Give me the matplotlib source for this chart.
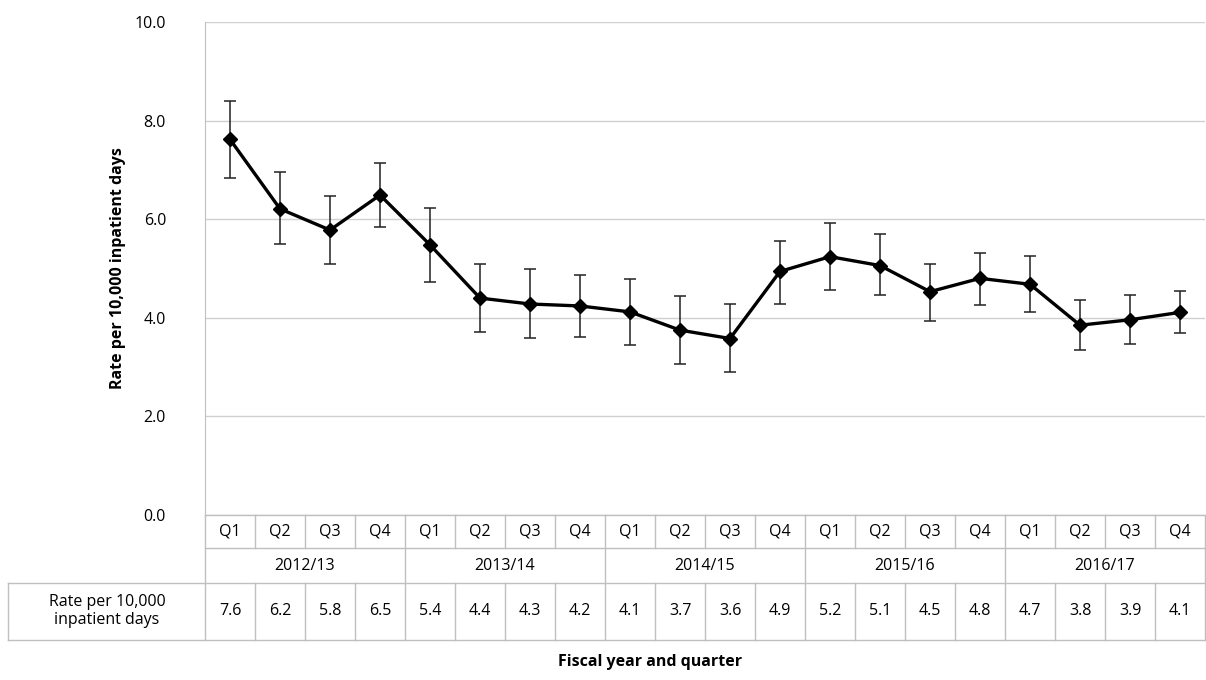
import matplotlib
matplotlib.use("Agg")
import matplotlib.pyplot as plt
from matplotlib.lines import Line2D

plt.rcParams["font.family"] = ["Open Sans", "DejaVu Sans"]

years = ["2012/13", "2013/14", "2014/15", "2015/16", "2016/17"]
quarters = ["Q1", "Q2", "Q3", "Q4"] * 5
rate = [7.62, 6.21, 5.78, 6.49, 5.48, 4.40, 4.28, 4.24, 4.12, 3.75,
        3.58, 4.94, 5.24, 5.06, 4.53, 4.80, 4.68, 3.85, 3.96, 4.11]
upper = [8.40, 6.96, 6.48, 7.13, 6.23, 5.09, 5.00, 4.87, 4.78, 4.45,
         4.28, 5.56, 5.93, 5.69, 5.10, 5.32, 5.25, 4.37, 4.46, 4.54]
lower = [6.84, 5.50, 5.10, 5.84, 4.72, 3.72, 3.60, 3.62, 3.44, 3.06,
         2.91, 4.28, 4.56, 4.46, 3.94, 4.26, 4.11, 3.35, 3.46, 3.70]
table_vals = ["7.6", "6.2", "5.8", "6.5", "5.4", "4.4", "4.3", "4.2", "4.1", "3.7",
              "3.6", "4.9", "5.2", "5.1", "4.5", "4.8", "4.7", "3.8", "3.9", "4.1"]

W, H = 1206, 680
fig = plt.figure(figsize=(W / 100, H / 100), dpi=100)
ax = fig.add_axes([205 / W, 1 - 515 / H, 1000 / W, 493 / H])

x = list(range(len(rate)))
yerr = [[r - l for r, l in zip(rate, lower)], [u - r for u, r in zip(upper, rate)]]
ax.errorbar(x, rate, yerr=yerr, fmt="none", ecolor="#222222", elinewidth=1.1,
            capsize=4.5, capthick=1.1, zorder=2)
ax.plot(x, rate, color="black", lw=2.4, marker="D", ms=7, zorder=3)

ax.set_xlim(-0.5, 19.5)
ax.set_ylim(0, 10)
ax.set_yticks([0, 2, 4, 6, 8, 10])
ax.set_yticklabels([f"{v:.1f}" for v in [0, 2, 4, 6, 8, 10]], fontsize=11.5)
ax.tick_params(axis="y", length=0, pad=28)
ax.set_xticks([])
ax.grid(axis="y", color="#d0d0d0", lw=1)
ax.set_axisbelow(True)
for s in ["top", "right", "bottom"]:
    ax.spines[s].set_visible(False)
ax.spines["left"].set_color("#bfbfbf")

# table below the plot, drawn in figure pixel coords
def fy(py):
    return 1 - py / H

def fx(px):
    return px / W

lc = "#bfbfbf"
def hline(x0, x1, py):
    fig.add_artist(Line2D([fx(x0), fx(x1)], [fy(py), fy(py)], color=lc, lw=1))

def vline(px, y0, y1):
    fig.add_artist(Line2D([fx(px), fx(px)], [fy(y0), fy(y1)], color=lc, lw=1))

x0, x1 = 205, 1205
cw = (x1 - x0) / 20
hline(x0, x1, 515)
hline(x0, x1, 548)
hline(8, x1, 583)
hline(8, x1, 640)
vline(8, 583, 640)
vline(x0, 515, 640)
vline(x1, 515, 640)
for i in range(1, 20):
    if i % 4 == 0:
        vline(x0 + i * cw, 515, 640)
    else:
        vline(x0 + i * cw, 515, 548)
        vline(x0 + i * cw, 583, 640)
for i in range(20):
    cx = fx(x0 + (i + 0.5) * cw)
    fig.text(cx, fy(532), quarters[i], ha="center", va="center", fontsize=11.5)
    fig.text(cx, fy(611), table_vals[i], ha="center", va="center", fontsize=11.5)
for j, yr in enumerate(years):
    fig.text(fx(x0 + (4 * j + 2) * cw), fy(566), yr, ha="center", va="center", fontsize=11.5)
fig.text(fx(107), fy(611), "Rate per 10,000\ninpatient days", ha="center", va="center",
         fontsize=11.5, linespacing=1.2)

fig.text(fx(118), fy(268), "Rate per 10,000 inpatient days", rotation=90, ha="center",
         va="center", fontsize=11.5, fontweight="bold")
fig.text(fx(650), fy(662), "Fiscal year and quarter", ha="center", va="center",
         fontsize=11.5, fontweight="bold")

fig.savefig("out.png", dpi=100)
